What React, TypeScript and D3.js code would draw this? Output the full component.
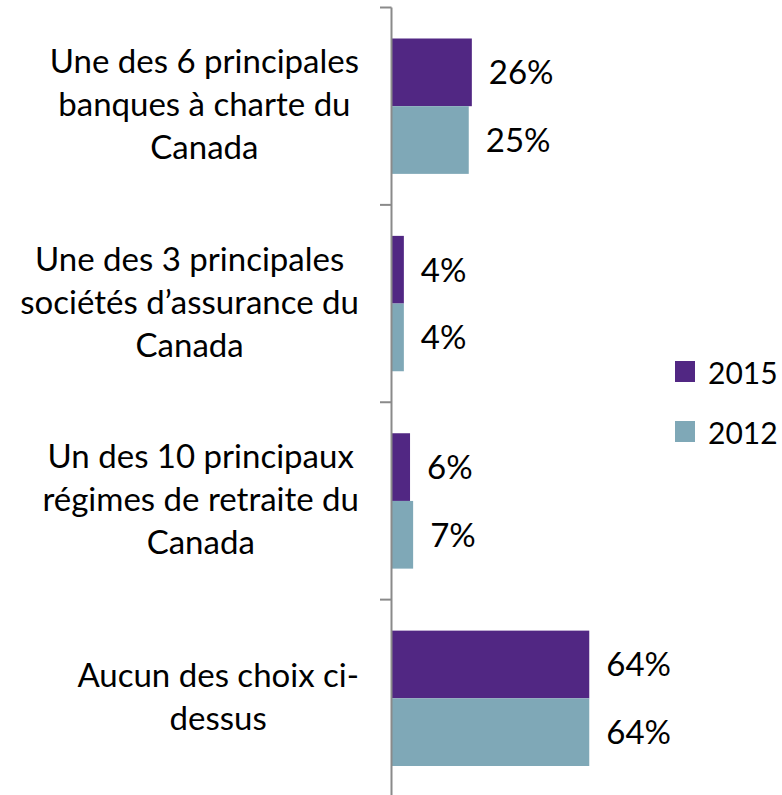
import React, { useMemo } from "react";
import * as d3 from "d3";

// ---- data ----
const categories = [
  "Une des 6 principales banques à charte du Canada",
  "Une des 3 principales sociétés d’assurance du Canada",
  "Un des 10 principaux régimes de retraite du Canada",
  "Aucun des choix ci-dessus",
];
const categoryLines = [
  ["Une des 6 principales", "banques à charte du", "Canada"],
  ["Une des 3 principales", "sociétés d’assurance du", "Canada"],
  ["Un des 10 principaux", "régimes de retraite du", "Canada"],
  ["Aucun des choix ci-", "dessus"],
];
const seriesNames = ["2015", "2012"];
const values2015 = [26, 4, 6, 64];
const values2012 = [25, 4, 7, 64];
const seriesColors = ["#512783", "#7fa8b7"];

const W = 782;
const H = 795;
const FONT = "Lato, 'Open Sans', sans-serif";
const FS = 33;

export default function App() {
  const series = [values2015, values2012];

  const y = d3.scaleBand<string>().domain(categories).range([7.5, 797]).padding(0);
  const inner = d3
    .scaleBand<string>()
    .domain(seriesNames)
    .range([31, y.bandwidth() - 31])
    .padding(0);
  const x = d3.scaleLinear().domain([0, 100]).range([391.5, 700.5]);

  const widths = useMemo(() => {
    const c = document.createElement("canvas").getContext("2d");
    return categoryLines.map((lines) => {
      if (!c) return 340;
      c.font = `${FS}px ${FONT}`;
      return Math.max(...lines.map((l) => c.measureText(l).width));
    });
  }, []);

  const labelRight = 359;
  const lineH = 43;
  const fmt = (v: number) => `${d3.format("d")(v)}%`;

  const tickYs = d3.range(categories.length + 1).map((i) =>
    i < categories.length ? (y(categories[i]) as number) : (y(categories[categories.length - 1]) as number) + y.bandwidth()
  );

  return (
    <svg
      width={W}
      height={H}
      style={{ position: "absolute", left: 0, top: 0, display: "block", background: "#fff" }}
      fontFamily={FONT}
    >
      {/* bars */}
      {categories.map((cat, ci) => (
        <g key={cat} transform={`translate(0,${y(cat)})`}>
          {seriesNames.map((s, si) => {
            const v = series[si][ci];
            const y0 = inner(s) as number;
            return (
              <g key={s}>
                <rect
                  x={x(0)}
                  y={y0}
                  width={x(v) - x(0)}
                  height={inner.bandwidth()}
                  fill={seriesColors[si]}
                />
                <text
                  x={x(v) + 17}
                  y={y0 + inner.bandwidth() / 2 + 12}
                  fontSize={FS}
                  fill="#000"
                >
                  {fmt(v)}
                </text>
              </g>
            );
          })}
        </g>
      ))}

      {/* axis */}
      <line x1={391.5} x2={391.5} y1={7.5} y2={800} stroke="#8a8a8a" strokeWidth={2} />
      {tickYs.map((ty, i) => (
        <line key={i} x1={380} x2={391.5} y1={ty} y2={ty} stroke="#8a8a8a" strokeWidth={2} />
      ))}

      {/* category labels */}
      {categories.map((cat, ci) => {
        const lines = categoryLines[ci];
        const cy = (y(cat) as number) + y.bandwidth() / 2;
        const cx = labelRight - widths[ci] / 2;
        const firstBase = cy + 10 - ((lines.length - 1) / 2) * lineH;
        return (
          <text key={cat} textAnchor="middle" fontSize={FS} fill="#000">
            {lines.map((l, li) => (
              <tspan key={li} x={cx} y={firstBase + li * lineH}>
                {l}
              </tspan>
            ))}
          </text>
        );
      })}

      {/* legend */}
      {seriesNames.map((s, si) => (
        <g key={s} transform={`translate(675,${361 + si * 60})`}>
          <rect x={0} y={0} width={20} height={21} fill={seriesColors[si]} />
          <text x={33} y={23} fontSize={30} fill="#000">
            {s}
          </text>
        </g>
      ))}
    </svg>
  );
}
